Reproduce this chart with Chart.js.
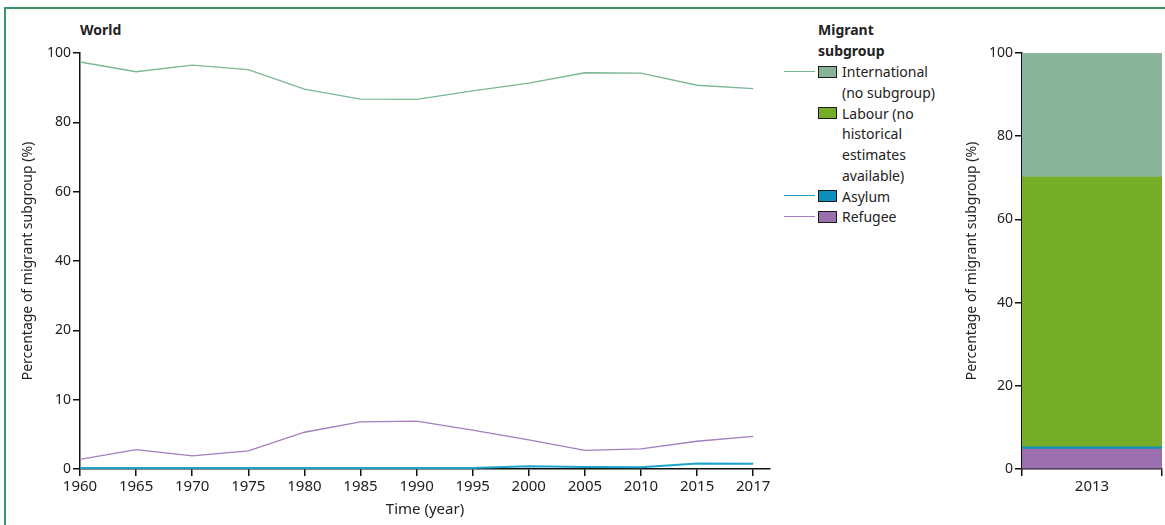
<!DOCTYPE html>
<html>
<head>
<meta charset="utf-8">
<script src="https://cdn.jsdelivr.net/npm/chart.js@4.4.1/dist/chart.umd.min.js"></script>
<style>
  body { margin: 0; width: 1165px; height: 525px; overflow: hidden; background: #fff; font-family: 'Noto Sans', sans-serif; color: #222; }
  #frame { position: absolute; left: 4px; top: 7px; width: 1170px; height: 530px; border-top: 2px solid #3a9466; border-left: 2px solid #3a9466; }
  #world { position: absolute; left: 80px; top: 19px; font-size: 14px; font-weight: bold; line-height: 22px; }
  #left-wrap { position: absolute; left: 0; top: 0; width: 780px; height: 525px; }
  #right-wrap { position: absolute; left: 940px; top: 0; width: 225px; height: 525px; }
  #legend { position: absolute; left: 784px; top: 20px; font-size: 14px; }
  #legend .title { position: absolute; left: 34px; top: 0; font-weight: bold; line-height: 20.5px; white-space: nowrap; }
  #legend .line { position: absolute; left: 0; width: 31px; height: 1.4px; }
  #legend .box { position: absolute; left: 34px; width: 17px; height: 10px; border: 1px solid #1a1a1a; }
  #legend .txt { position: absolute; left: 58px; line-height: 20.7px; white-space: nowrap; }
</style>
</head>
<body>
<div id="frame"></div>
<div id="world">World</div>
<div id="left-wrap"><canvas id="left"></canvas></div>
<div id="right-wrap"><canvas id="right"></canvas></div>
<div id="legend"></div>
<script>
const YEARS = ['1960', '1965', '1970', '1975', '1980', '1985', '1990', '1995', '2000', '2005', '2010', '2015', '2017'];
const INTERNATIONAL = [97.4, 94.6, 96.5, 95.2, 89.6, 86.7, 86.6, 89.1, 91.3, 94.3, 94.2, 90.7, 89.7];
const REFUGEE = [1.4, 2.8, 1.9, 2.6, 5.3, 6.8, 6.9, 5.6, 4.2, 2.7, 2.9, 4.0, 4.7];
const ASYLUM = [0.15, 0.15, 0.15, 0.15, 0.15, 0.15, 0.15, 0.15, 0.4, 0.3, 0.25, 0.8, 0.75];
const Y_TICKS = [0, 10, 20, 40, 60, 80, 100];

const BAR_YEARS = ['2013'];
const BAR_REFUGEE = [4.8];
const BAR_ASYLUM = [0.5];
const BAR_LABOUR = [64.9];
const BAR_INTERNATIONAL = [29.8];
const BAR_TICKS = [0, 20, 40, 60, 80, 100];

const LEGEND_TITLE = ['Migrant', 'subgroup'];
const LEGEND_LINES = [
    { lines: ['International', '(no subgroup)'], box: '#87b399', line: '#7ab893' },
    { lines: ['Labour (no', 'historical', 'estimates', 'available)'], box: '#76ad28', line: null },
    { lines: ['Asylum'], box: '#0f8fbe', line: '#1ea2ca' },
    { lines: ['Refugee'], box: '#9a6fad', line: '#a47ec0' }
];

const FONT = { family: "'Noto Sans', sans-serif", size: 14 };
const X_FONT = { family: "'Noto Sans', sans-serif", size: 15 };
const INK = '#222';
const AXIS = '#111';

// y axis where 0-20 is stretched: each tick step gets the same height
class BrokenLinearScale extends Chart.LinearScale {
    static id = 'brokenLinear';
    static defaults = {};
    buildTicks() {
        return Y_TICKS.map(v => ({ value: v }));
    }
    toPos(v) {
        return v <= 20 ? v / 10 : 2 + (v - 20) / 20;
    }
    getPixelForValue(v) {
        if (v === null || v === undefined || isNaN(v)) return NaN;
        return this.getPixelForDecimal(this.toPos(v) / this.toPos(this.max));
    }
    getValueForPixel(px) {
        const p = this.getDecimalForPixel(px) * this.toPos(this.max);
        return p <= 2 ? p * 10 : 20 + (p - 2) * 20;
    }
}
Chart.register(BrokenLinearScale);

function axisGrid() {
    return { display: true, drawOnChartArea: false, drawTicks: true, tickLength: 7, color: AXIS, lineWidth: 1.5 };
}

function axisTitle(text, pad, font) {
    return { display: true, text: text, font: font || FONT, color: INK, padding: pad };
}

function toPoints(values) {
    return values.map((v, i) => ({ x: i, y: v }));
}

function lineDataset(label, values, color, width) {
    return { label: label, data: toPoints(values), borderColor: color, borderWidth: width, pointRadius: 0, tension: 0, fill: false };
}

function buildLegend() {
    const el = document.getElementById('legend');
    let html = '<div class="title">' + LEGEND_TITLE.join('<br>') + '</div>';
    let top = 42.3;
    const lh = 20.7;
    LEGEND_LINES.forEach(item => {
        const mid = top + lh / 2;
        if (item.line) html += '<div class="line" style="top:' + (mid - 2) + 'px;background:' + item.line + '"></div>';
        html += '<div class="box" style="top:' + (mid - 7) + 'px;background:' + item.box + '"></div>';
        html += '<div class="txt" style="top:' + top + 'px">' + item.lines.join('<br>') + '</div>';
        top += lh * item.lines.length;
    });
    el.innerHTML = html;
}

function loadLeftChart() {
    new Chart(document.getElementById('left'), {
        type: 'line',
        data: {
            datasets: [
                lineDataset('International (no subgroup)', INTERNATIONAL, '#7ab893', 1.3),
                lineDataset('Refugee', REFUGEE, '#a47ec0', 1.3),
                lineDataset('Asylum', ASYLUM, '#1ea2ca', 2)
            ]
        },
        options: {
            responsive: true,
            maintainAspectRatio: false,
            animation: false,
            layout: { padding: { left: 0, top: 53, right: 10, bottom: 0 } },
            plugins: { legend: { display: false }, tooltip: { enabled: false } },
            scales: {
                x: {
                    type: 'linear',
                    min: 0,
                    max: 12.3,
                    afterBuildTicks: scale => { scale.ticks = YEARS.map((_, i) => ({ value: i })); },
                    afterFit: scale => { scale.height = 56; },
                    ticks: { font: X_FONT, color: INK, padding: 2, maxRotation: 0, autoSkip: false, callback: v => YEARS[v] },
                    grid: axisGrid(),
                    border: { display: true, color: AXIS, width: 1.5 },
                    title: axisTitle('Time (year)', { top: 0, bottom: 6 }, X_FONT)
                },
                y: {
                    type: 'brokenLinear',
                    min: 0,
                    max: 100,
                    afterFit: scale => { scale.width = 80; },
                    ticks: { font: FONT, color: INK, padding: 2, callback: v => v },
                    grid: axisGrid(),
                    border: { display: true, color: AXIS, width: 1.5 },
                    title: axisTitle('Percentage of migrant subgroup (%)', { top: 20, bottom: 0 })
                }
            }
        }
    });
}

function barDataset(label, values, color) {
    return { label: label, data: values, backgroundColor: color, borderWidth: 0, barPercentage: 1, categoryPercentage: 1 };
}

function loadRightChart() {
    new Chart(document.getElementById('right'), {
        type: 'bar',
        data: {
            labels: BAR_YEARS,
            datasets: [
                barDataset('Refugee', BAR_REFUGEE, '#9c70ae'),
                barDataset('Asylum', BAR_ASYLUM, '#0f91c0'),
                barDataset('Labour', BAR_LABOUR, '#76ae27'),
                barDataset('International', BAR_INTERNATIONAL, '#88b49a')
            ]
        },
        options: {
            responsive: true,
            maintainAspectRatio: false,
            animation: false,
            layout: { padding: { left: 0, top: 53, right: 3, bottom: 0 } },
            plugins: { legend: { display: false }, tooltip: { enabled: false } },
            scales: {
                x: {
                    stacked: true,
                    afterFit: scale => { scale.height = 56; },
                    ticks: { font: X_FONT, color: INK, padding: 2, maxRotation: 0 },
                    grid: Object.assign(axisGrid(), { offset: true }),
                    border: { display: true, color: AXIS, width: 1.5 }
                },
                y: {
                    stacked: true,
                    min: 0,
                    max: 100,
                    afterBuildTicks: scale => { scale.ticks = BAR_TICKS.map(v => ({ value: v })); },
                    afterFit: scale => { scale.width = 82; },
                    ticks: { font: FONT, color: INK, padding: 2 },
                    grid: axisGrid(),
                    border: { display: true, color: AXIS, width: 1.5 },
                    title: axisTitle('Percentage of migrant subgroup (%)', { top: 24, bottom: 0 })
                }
            }
        }
    });
}

buildLegend();
loadLeftChart();
loadRightChart();
</script>
</body>
</html>
